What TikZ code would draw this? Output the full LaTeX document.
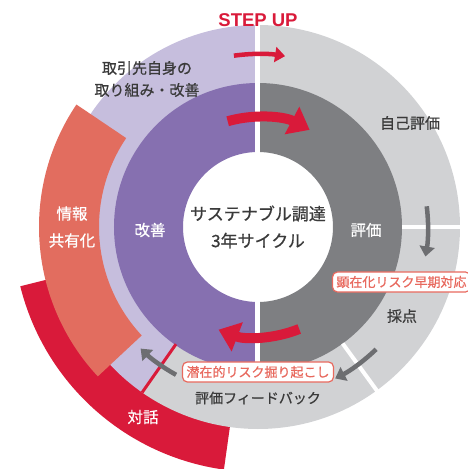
\documentclass[tikz,border=0pt]{standalone}
\usepackage{fontspec}
\setsansfont{Liberation Sans}
\newfontfamily\jp{Noto Sans CJK JP}[FakeBold=0.7]
\usepackage{tikz}
\usetikzlibrary{arrows.meta}
\definecolor{CyLilac}{HTML}{C6BEDD}
\definecolor{CyPurple}{HTML}{8670B0}
\definecolor{CyDark}{HTML}{7E7F82}
\definecolor{CyLight}{HTML}{D1D2D4}
\definecolor{CyCoral}{HTML}{E26D5F}
\definecolor{CyRed}{HTML}{D91A3A}
\definecolor{CyArrow}{HTML}{6D6E71}
\definecolor{CyText}{HTML}{3A3A3A}
\definecolor{CyBox}{HTML}{E8695E}
% ring sector: colour, start, end, inner radius, outer radius
\newcommand{\ringpart}[5]{%
  \fill[#1] (#2:#4) arc[start angle=#2, end angle=#3, radius=#4]
    -- (#3:#5) arc[start angle=#3, end angle=#2, radius=#5] -- cycle;}

\begin{document}
\begin{tikzpicture}[every node/.style={font=\jp, inner sep=0pt},
  lbl/.style={text=CyText, align=center, font=\jp\fontsize{15}{22}\selectfont},
  wlbl/.style={text=white, align=center, font=\jp\fontsize{15.5}{27}\selectfont},
  riskbox/.style={draw=CyBox, fill=white, line width=1.2pt, rounded corners=5pt,
    text=CyBox, inner xsep=4pt, inner ysep=4pt, font=\jp\fontsize{13}{14}\selectfont},
  bigarr/.style={CyRed, line width=10pt, -{Triangle[length=20pt, width=30pt]}},
  smallarr/.style={line width=4.5pt, -{Triangle[length=10pt, width=15pt]}},
  sep/.style={white, line width=5pt}
]
  \useasboundingbox (-258pt,-242pt) rectangle (209pt,227pt);

  % Outer ring
  \ringpart{CyRed}{194}{262}{200pt}{245pt}
  \ringpart{CyLilac}{90}{235}{143pt}{202pt}
  \ringpart{CyLight}{-125}{90}{143pt}{202pt}
  \ringpart{CyCoral}{146}{223}{159pt}{219pt}

  % Inner ring
  \ringpart{CyPurple}{90}{270}{75pt}{144pt}
  \ringpart{CyDark}{-90}{90}{75pt}{144pt}

  % Separators
  \draw[sep] (90:74pt) -- (90:202.5pt);
  \draw[sep] (270:74pt) -- (270:144pt);
  \draw[sep, line width=4pt] (0:144pt) -- (0:202.5pt);
  \draw[sep, line width=4pt] (-54:144pt) -- (-54:202.5pt);
  \draw[CyRed, line width=3pt] (235:143pt) -- (235:202pt);

  % Arrows
  \draw[smallarr, CyRed] (98:173pt) arc[start angle=98, end angle=81, radius=173pt];
  \draw[bigarr] (106:110pt) arc[start angle=106, end angle=62, radius=110pt];
  \draw[bigarr] (-68:110pt) arc[start angle=-68, end angle=-111, radius=110pt];
  \draw[smallarr, CyArrow] (7:170pt) arc[start angle=7, end angle=-10, radius=170pt];
  \draw[smallarr, CyArrow] (-46:170pt) arc[start angle=-46, end angle=-63, radius=170pt];
  \draw[smallarr, CyArrow] (241:169pt) arc[start angle=241, end angle=226, radius=169pt];

  % Labels
  \node[text=CyRed, font=\sffamily\bfseries\fontsize{18.5}{20}\selectfont] (stepup) at (0pt,207pt) {STEP UP};
  \node[lbl] (partner) at (-111pt,148pt) {取引先自身の\\取り組み・改善};
  \node[lbl] (selfeval) at (152pt,104pt) {自己評価};
  \node[wlbl] (share) at (-186pt,0pt) {情報\\共有化};
  \node[wlbl] (improve) at (-108pt,-3pt) {改善};
  \node[text=CyText, align=center, font=\jp\fontsize{17}{27}\selectfont] (cycle) at (0pt,0pt) {サステナブル調達\\3年サイクル};
  \node[wlbl] (eval) at (108pt,-3pt) {評価};
  \node[riskbox] (overt) at (143.5pt,-55pt) {顕在化リスク早期対応};
  \node[lbl] (score) at (144pt,-89pt) {採点};
  \node[riskbox] (latent) at (0pt,-145pt) {潜在的リスク掘り起こし};
  \node[lbl, font=\jp\fontsize{14}{14}\selectfont] (feedback) at (0pt,-171pt) {評価フィードバック};
  \node[wlbl] (dialog) at (-115pt,-190pt) {対話};
\end{tikzpicture}
\end{document}
